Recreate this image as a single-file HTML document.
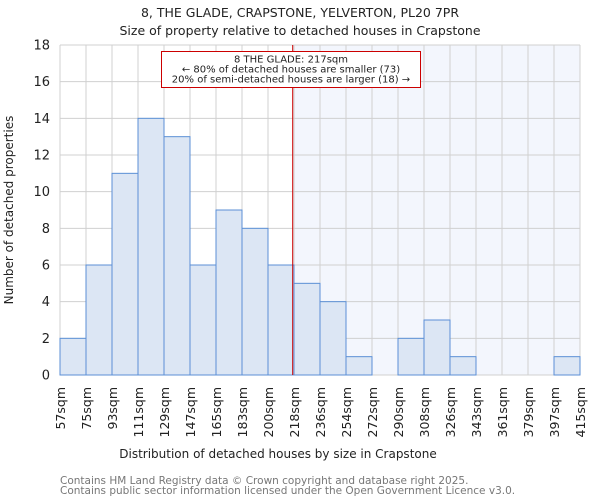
<!DOCTYPE html>
<html><head><meta charset="utf-8"><style>
body{margin:0;background:#fff;}
svg{display:block;font-family:"DejaVu Sans","Liberation Sans",sans-serif;}
</style></head><body>
<svg id="chart" width="600" height="500" viewBox="0 0 600 500">
<text x="300" y="17" text-anchor="middle" font-size="12.5" fill="#222">8, THE GLADE, CRAPSTONE, YELVERTON, PL20 7PR</text>
<text x="300" y="35" text-anchor="middle" font-size="12.5" fill="#222">Size of property relative to detached houses in Crapstone</text>
<g id="plot"></g>
<text x="278" y="458" text-anchor="middle" font-size="12" fill="#222">Distribution of detached houses by size in Crapstone</text>
<text transform="translate(13,210) rotate(-90)" text-anchor="middle" font-size="12" fill="#222">Number of detached properties</text>
<text x="60" y="484" font-size="10.5" fill="#777">Contains HM Land Registry data © Crown copyright and database right 2025.</text>
<text x="60" y="494" font-size="10.5" fill="#777">Contains public sector information licensed under the Open Government Licence v3.0.</text>
</svg>
<script>
const categories=["57sqm","75sqm","93sqm","111sqm","129sqm","147sqm","165sqm","183sqm","200sqm","218sqm","236sqm","254sqm","272sqm","290sqm","308sqm","326sqm","343sqm","361sqm","379sqm","397sqm","415sqm"];
const counts=[2,6,11,14,13,6,9,8,6,5,4,1,0,2,3,1,0,0,0,1];
const yTicks=[0,2,4,6,8,10,12,14,16,18];
const markerIndex=8.95;
const ns="http://www.w3.org/2000/svg";
const g=document.getElementById("plot");
const L=60,R=580,T=45,B=375,yMax=18;
const bw=(R-L)/counts.length;
const xs=i=>L+i*bw;
const ys=v=>B-(v/yMax)*(B-T);
function mk(t,a){const e=document.createElementNS(ns,t);for(const k in a)e.setAttribute(k,a[k]);g.appendChild(e);return e;}
let e;
e=mk("rect",{x:xs(markerIndex),y:T,width:R-xs(markerIndex),height:B-T,fill:"#f3f6fd"});


for(let i=0;i<=counts.length;i++){e=mk("line",{x1:xs(i),x2:xs(i),y1:T,y2:B,stroke:"#d0d0d0","stroke-width":1});

}
yTicks.forEach(v=>{e=mk("line",{x1:L,x2:R,y1:ys(v),y2:ys(v),stroke:"#d0d0d0","stroke-width":1});


e=mk("text",{x:L-10,y:ys(v)+4.5,"text-anchor":"end","font-size":13,fill:"#222"});e.textContent=v;

});
counts.forEach((c,i)=>{if(c<=0)return;e=mk("rect",{x:xs(i),y:ys(c),width:bw,height:ys(0)-ys(c),fill:"#dce6f4",stroke:"#5b8fd6","stroke-width":1});

});
categories.forEach((c,i)=>{e=mk("text",{transform:`translate(${xs(i)+5},387) rotate(-90)`,"text-anchor":"end","font-size":12.5,fill:"#222"});e.textContent=c;

});
e=mk("line",{x1:xs(markerIndex),x2:xs(markerIndex),y1:T,y2:B,stroke:"#cc0000","stroke-width":1});


e=mk("rect",{x:161.5,y:51.5,width:259,height:36,fill:"#fff",stroke:"#cc0000","stroke-width":1});


["8 THE GLADE: 217sqm","← 80% of detached houses are smaller (73)","20% of semi-detached houses are larger (18) →"].forEach((t,i)=>{
e=mk("text",{x:291,y:62.5+i*10,"text-anchor":"middle","font-size":10,fill:"#222"});e.textContent=t;

});
</script>
</body></html>
